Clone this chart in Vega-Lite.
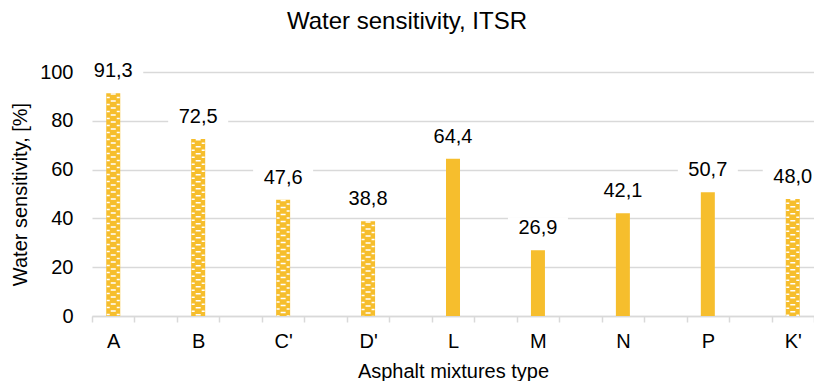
{
  "$schema": "https://vega.github.io/schema/vega-lite/v6.json",
  "width": 722,
  "height": 244,
  "autosize": "none",
  "padding": {"left": 92, "top": 72, "right": 0, "bottom": 65},
  "background": "white",
  "config": {
    "font": "Liberation Sans",
    "view": {"stroke": null}
  },
  "title": {
    "text": "Water sensitivity, ITSR",
    "fontSize": 24,
    "fontWeight": "normal",
    "color": "#000000",
    "dx": -46,
    "offset": 26
  },
  "data": {
    "values": [
      {"mix": "A", "value": 91.3, "label": "91,3", "pattern": true},
      {"mix": "B", "value": 72.5, "label": "72,5", "pattern": true},
      {"mix": "C'", "value": 47.6, "label": "47,6", "pattern": true},
      {"mix": "D'", "value": 38.8, "label": "38,8", "pattern": true},
      {"mix": "L", "value": 64.4, "label": "64,4", "pattern": false},
      {"mix": "M", "value": 26.9, "label": "26,9", "pattern": false},
      {"mix": "N", "value": 42.1, "label": "42,1", "pattern": false},
      {"mix": "P", "value": 50.7, "label": "50,7", "pattern": false},
      {"mix": "K'", "value": 48.0, "label": "48,0", "pattern": true}
    ]
  },
  "encoding": {
    "x": {
      "field": "mix",
      "type": "nominal",
      "sort": null,
      "scale": {
        "type": "point",
        "domain": ["A", "_1", "B", "_2", "C'", "_3", "D'", "_4", "L", "_5", "M", "_6", "N", "_7", "P", "_8", "K'", "_9"],
        "padding": 0
      },
      "axis": {
        "title": "Asphalt mixtures type",
        "titleFontSize": 20,
        "titleFontWeight": "normal",
        "titleColor": "#000000",
        "titlePadding": 10,
        "labelExpr": "indexof(datum.value, '_') == 0 ? '' : datum.value",
        "labelOffset": 21.24,
        "labelAngle": 0,
        "labelFontSize": 20,
        "labelColor": "#000000",
        "labelPadding": 9,
        "tickColor": "#d9d9d9",
        "tickSize": 6,
        "tickWidth": 1.5,
        "domainColor": "#d9d9d9",
        "domainWidth": 1.5,
        "grid": false
      }
    },
    "y": {
      "field": "value",
      "type": "quantitative",
      "scale": {"domain": [0, 100], "nice": false},
      "axis": {
        "title": "Water sensitivity, [%]",
        "titleFontSize": 20,
        "titleFontWeight": "normal",
        "titleColor": "#000000",
        "titlePadding": 9,
        "values": [0, 20, 40, 60, 80, 100],
        "labelFontSize": 20,
        "labelColor": "#000000",
        "labelPadding": 19,
        "domain": false,
        "ticks": false,
        "gridColor": "#d9d9d9",
        "gridWidth": 1.5
      }
    }
  },
  "layer": [
    {
      "mark": {"type": "bar", "width": 14, "color": "#F6BE2D", "xOffset": 21.24},
      "encoding": {}
    },
    {
      "transform": [{"filter": "datum.pattern"}],
      "mark": {"type": "rule", "color": "#ffffff", "strokeWidth": 5, "strokeDash": [1.5, 5.5], "xOffset": 21.24},
      "encoding": {"y2": {"datum": 0}}
    },
    {
      "transform": [{"filter": "datum.pattern"}],
      "mark": {"type": "rule", "color": "#ffffff", "strokeWidth": 3, "strokeDash": [1.5, 5.5], "strokeDashOffset": 3.5, "xOffset": 16.24},
      "encoding": {"y2": {"datum": 0}}
    },
    {
      "transform": [{"filter": "datum.pattern"}],
      "mark": {"type": "rule", "color": "#ffffff", "strokeWidth": 3, "strokeDash": [1.5, 5.5], "strokeDashOffset": 3.5, "xOffset": 26.24},
      "encoding": {"y2": {"datum": 0}}
    },
    {
      "mark": {"type": "bar", "width": 60, "color": "#ffffff", "xOffset": 21.24, "yOffset": -33, "y2Offset": -11},
      "encoding": {"y2": {"field": "value"}}
    },
    {
      "mark": {"type": "text", "fontSize": 20, "color": "#000000", "baseline": "middle", "dy": -22, "xOffset": 21.24},
      "encoding": {"text": {"field": "label"}}
    }
  ]
}
